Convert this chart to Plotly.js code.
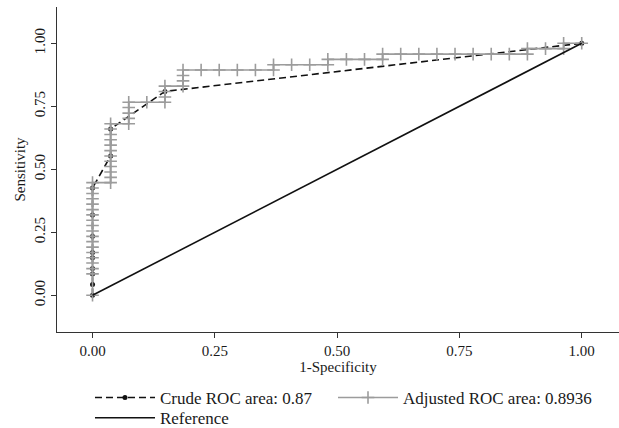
<!DOCTYPE html>
<html>
<head>
<meta charset="utf-8">
<script src="https://cdn.plot.ly/plotly-3.0.1.min.js"></script>
<style>html,body{margin:0;padding:0;background:#fff;}#chart{width:619px;height:428px;}</style>
</head>
<body>
<div id="chart"></div>
<script>
// Crude ROC points (1-specificity, sensitivity)
const crudeX = [0, 0, 0, 0, 0, 0, 0, 0, 0, 0.037, 0.037, 0.148, 1];
const crudeY = [0, 0.043, 0.085, 0.106, 0.149, 0.170, 0.234, 0.319, 0.426, 0.553, 0.660, 0.809, 1];

// Adjusted ROC points (empirical step curve)
const adjX = [0, 0, 0, 0, 0, 0, 0, 0, 0, 0, 0, 0, 0, 0, 0, 0, 0, 0, 0,
  0.037, 0.037, 0.037, 0.037, 0.037, 0.037, 0.037, 0.037, 0.037, 0.037, 0.037, 0.037,
  0.074, 0.074, 0.074, 0.074, 0.074,
  0.111, 0.148, 0.148, 0.148, 0.148,
  0.185, 0.185, 0.185, 0.185,
  0.222, 0.259, 0.296, 0.333, 0.370, 0.370,
  0.407, 0.444, 0.481, 0.481,
  0.519, 0.556, 0.593, 0.593,
  0.630, 0.667, 0.704, 0.741, 0.778, 0.815, 0.852, 0.889, 0.889,
  0.926, 0.963, 0.963, 1];
const adjY = [0, 0.085, 0.106, 0.128, 0.149, 0.170, 0.191, 0.213, 0.234, 0.255, 0.277, 0.298, 0.319, 0.340, 0.362, 0.383, 0.404, 0.426, 0.447,
  0.447, 0.468, 0.489, 0.511, 0.532, 0.553, 0.574, 0.596, 0.617, 0.638, 0.660, 0.681,
  0.681, 0.702, 0.723, 0.745, 0.766,
  0.766, 0.766, 0.787, 0.809, 0.830,
  0.830, 0.851, 0.872, 0.894,
  0.894, 0.894, 0.894, 0.894, 0.894, 0.915,
  0.915, 0.915, 0.915, 0.936,
  0.936, 0.936, 0.936, 0.957,
  0.957, 0.957, 0.957, 0.957, 0.957, 0.957, 0.957, 0.957, 0.979,
  0.979, 0.979, 1, 1];

// Reference diagonal
const refX = [0, 1];
const refY = [0, 1];

const xTicks = [0, 0.25, 0.5, 0.75, 1];
const xTickText = ["0.00", "0.25", "0.50", "0.75", "1.00"];
const yTicks = [0, 0.25, 0.5, 0.75, 1];
const yTickText = ["0.00", "0.25", "0.50", "0.75", "1.00"];

const fam = "Liberation Serif, Times New Roman, serif";
const tickFont = {family: fam, size: 15, color: "#1a1a1a"};
const titleFont = {family: fam, size: 15, color: "#1a1a1a"};
const legendFont = {family: fam, size: 17, color: "#1a1a1a"};

const traces = [
  {x: crudeX, y: crudeY, type: "scatter", mode: "lines+markers", name: "Crude ROC area: 0.87",
   legend: "legend",
   line: {color: "#111", width: 1.6, dash: "7px,4px"},
   marker: {symbol: "circle", size: 5, color: "#111"}},
  {x: adjX, y: adjY, type: "scatter", mode: "lines+markers", name: "Adjusted ROC area: 0.8936",
   legend: "legend2",
   line: {color: "#9c9c9c", width: 1.6},
   marker: {symbol: "cross-thin", size: 9, color: "#9c9c9c", line: {color: "#9c9c9c", width: 1.6}}},
  {x: refX, y: refY, type: "scatter", mode: "lines", name: "Reference",
   legend: "legend3",
   line: {color: "#111", width: 1.6}}
];

function legendAt(x, y) {
  return {x: x, xanchor: "left", y: y, yanchor: "middle", orientation: "v",
    font: legendFont, itemwidth: 60, bgcolor: "rgba(0,0,0,0)", borderwidth: 0};
}

const layout = {
  width: 619, height: 428,
  margin: {l: 57, r: 0, t: 7, b: 96, autoexpand: false},
  paper_bgcolor: "#fff", plot_bgcolor: "#fff",
  font: tickFont,
  showlegend: true,
  xaxis: {
    range: [-0.0726, 1.0762], tickvals: xTicks, ticktext: xTickText,
    showgrid: false, zeroline: false, showline: true, linecolor: "#333", linewidth: 1,
    ticks: "outside", ticklen: 5, tickcolor: "#333", tickwidth: 1,
    title: {text: "1-Specificity", font: titleFont, standoff: 0},
    tickfont: tickFont, automargin: false
  },
  yaxis: {
    range: [-0.1456, 1.144], tickvals: yTicks, ticktext: yTickText,
    showgrid: false, zeroline: false, showline: true, linecolor: "#333", linewidth: 1,
    ticks: "outside", ticklen: 5, tickcolor: "#333", tickwidth: 1, tickangle: -90,
    title: {text: "Sensitivity", font: titleFont, standoff: 2},
    tickfont: tickFont, automargin: false
  },
  legend: legendAt(0.0587, -0.203),
  legend2: legendAt(0.4911, -0.203),
  legend3: legendAt(0.0587, -0.265)
};

Plotly.newPlot("chart", traces, layout, {displayModeBar: false, staticPlot: true});
</script>
</body>
</html>
